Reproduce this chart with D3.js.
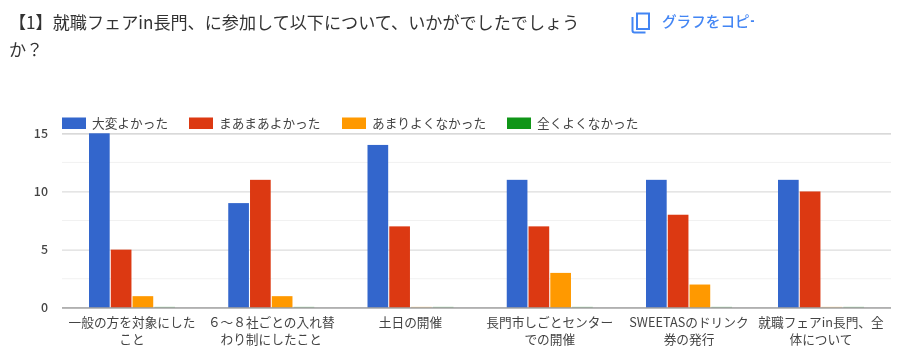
<!DOCTYPE html>
<html>
<head>
<meta charset="utf-8">
<script src="https://cdn.jsdelivr.net/npm/d3@7"></script>
<style>
    body { margin: 0; background: #fff; }
    text { font-family: "Noto Sans CJK JP", "Noto Sans", sans-serif; }
</style>
</head>
<body>
<script>
const titleLines = ["【1】就職フェアin長門、に参加して以下について、いかがでしたでしょう", "か？"];
const copyLabel = "グラフをコピー";
const seriesNames = ["大変よかった", "まあまあよかった", "あまりよくなかった", "全くよくなかった"];
const seriesColors = ["#3366cc", "#dc3912", "#ff9900", "#109618"];
const categoryLines = [
    ["一般の方を対象にした", "こと"],
    ["６～８社ごとの入れ替", "わり制にしたこと"],
    ["土日の開催"],
    ["長門市しごとセンター", "での開催"],
    ["SWEETASのドリンク", "券の発行"],
    ["就職フェアin長門、全", "体について"]
];
const veryGood = [15, 9, 14, 11, 11, 11];
const fairlyGood = [5, 11, 7, 7, 8, 10];
const notGood = [1, 1, 0, 3, 2, 0];
const notAtAll = [0, 0, 0, 0, 0, 0];
const seriesValues = [veryGood, fairlyGood, notGood, notAtAll];
const majorTicks = [0, 5, 10, 15];
const minorTicks = [2.5, 7.5, 12.5];

const svgWidth = 906;
const svgHeight = 361;
const plot = {left: 62, right: 891, top: 133.3, bottom: 307.8};

const svg = d3.select("body")
    .append("svg")
    .attr("width", svgWidth)
    .attr("height", svgHeight)
    .style("display", "block")
    .style("filter", "blur(0.35px)"); // the screenshot is a soft upscale

// title
svg.append("g")
    .selectAll("text")
    .data(titleLines)
    .join("text")
    .attr("x", 9)
    .attr("y", (d, i) => 29 + i * 27)
    .attr("font-size", "17.12px")
    .attr("fill", "#333")
    .text(d => d);

// copy button, cut off on the right like the screenshot
svg.append("clipPath").attr("id", "copyClip")
    .append("rect").attr("x", 600).attr("y", 0).attr("width", 154).attr("height", 50);
const copyG = svg.append("g").attr("clip-path", "url(#copyClip)");
copyG.append("path")
    .attr("d", "M637 13.5h12v15.5h-12z M632.5 17v13.5q0 2 2 2h11")
    .attr("fill", "none")
    .attr("stroke", "#4285f4")
    .attr("stroke-width", 2);
copyG.append("text")
    .attr("x", 662)
    .attr("y", 27)
    .attr("font-size", "14.6px")
    .attr("font-weight", 500)
    .attr("fill", "#4285f4")
    .text(copyLabel);

// scale-y
const scaleY = d3.scaleLinear()
    .domain([0, 15])
    .range([plot.bottom, plot.top]);

// group positions: the last group sits closer in the picture
const scaleX = d3.scaleLinear()
    .domain([0, 4, 5])
    .range([89, 646, 778]);
const scaleBar = d3.scaleBand()
    .domain(d3.range(seriesNames.length))
    .range([0, 86])
    .paddingInner(0.05);
const groupWidth = 86;

// grid
svg.append("g")
    .selectAll("line")
    .data(minorTicks)
    .join("line")
    .attr("x1", plot.left)
    .attr("x2", plot.right)
    .attr("y1", d => scaleY(d))
    .attr("y2", d => scaleY(d))
    .attr("stroke", "#f1f1f1");

// axis-y
svg.append("g")
    .attr("transform", `translate(${plot.left}, 0)`)
    .call(d3.axisLeft(scaleY)
        .tickValues(majorTicks)
        .tickSize(-(plot.right - plot.left))
        .tickPadding(14)
    )
    .call(g => g.select(".domain").remove())
    .call(g => g.selectAll(".tick line")
        .attr("stroke", d => d === 15 ? "#ccc" : "#ddd")
        .attr("stroke-width", 1.2))
    .call(g => g.selectAll(".tick text")
        .attr("font-size", "12.4px")
        .attr("font-family", "Roboto, Arial, sans-serif")
        .attr("font-weight", 500)
        .attr("fill", "#444"));

// bars
const barG = svg.append("g")
    .selectAll("g")
    .data(seriesValues)
    .join("g")
    .attr("fill", (d, i) => seriesColors[i])
    .attr("transform", (d, i) => `translate(${scaleBar(i)}, 0)`);

barG.selectAll("rect")
    .data(d => d)
    .join("rect")
    .attr("x", (d, i) => scaleX(i))
    .attr("y", d => d > 0 ? scaleY(d) : scaleY(0) - 1)
    .attr("width", scaleBar.bandwidth())
    .attr("height", d => d > 0 ? scaleY(0) - scaleY(d) : 1)
    .attr("opacity", d => d > 0 ? 1 : 0.4);

// baseline
svg.append("line")
    .attr("x1", plot.left)
    .attr("x2", plot.right)
    .attr("y1", scaleY(0))
    .attr("y2", scaleY(0))
    .attr("stroke", "#999")
    .attr("stroke-width", 1.2);

// category labels
const labelG = svg.append("g")
    .selectAll("text")
    .data(categoryLines)
    .join("text")
    .attr("text-anchor", "middle")
    .attr("font-size", "12.7px")
    .attr("fill", "#444");

labelG.selectAll("tspan")
    .data((d, i) => d.map(line => ({line, i})))
    .join("tspan")
    .attr("x", d => scaleX(d.i) + groupWidth / 2)
    .attr("y", (d, j) => 327 + j * 16.5)
    .text(d => d.line);

// legend
const legendX = [62, 189, 342, 507];
const legendG = svg.append("g")
    .selectAll("g")
    .data(seriesNames)
    .join("g")
    .attr("transform", (d, i) => `translate(${legendX[i]}, 117.5)`);

legendG.append("rect")
    .attr("width", 24)
    .attr("height", 11.5)
    .attr("fill", (d, i) => seriesColors[i]);

legendG.append("text")
    .attr("x", 30)
    .attr("y", 10.5)
    .attr("font-size", "12.7px")
    .attr("fill", "#444")
    .text(d => d);
</script>
</body>
</html>
